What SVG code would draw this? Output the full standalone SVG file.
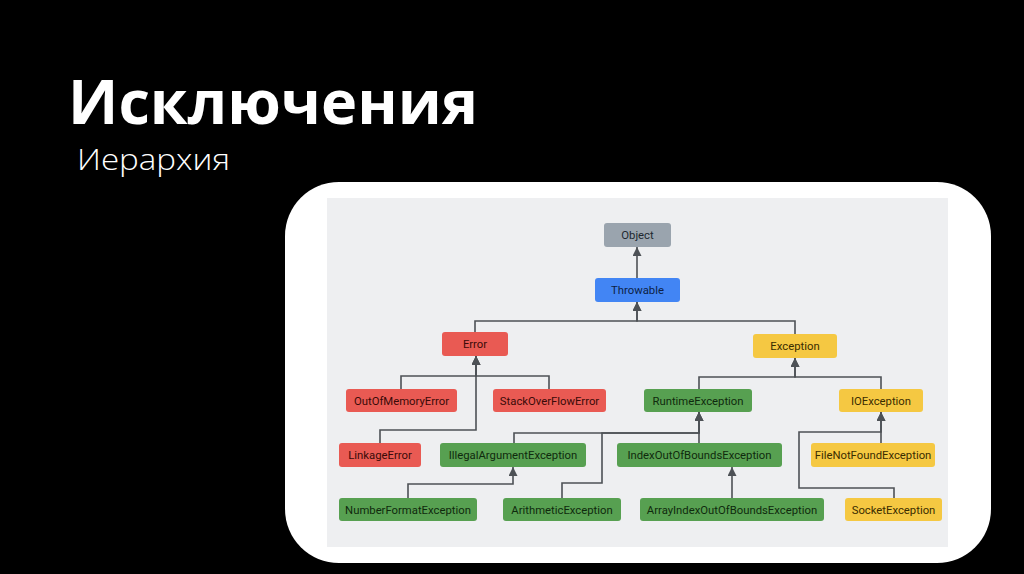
<svg xmlns="http://www.w3.org/2000/svg" width="1024" height="574" viewBox="0 0 1024 574">
<style>
.t{font-family:"Open Sans","Liberation Sans",sans-serif;fill:#fff}
.n{font-family:Roboto,"Liberation Sans",sans-serif;font-size:11.3px;text-anchor:middle}
.c{fill:none;stroke:#4d5156;stroke-width:1.6;marker-end:url(#ah)}
.gr rect{fill:#9aa4ae}.gr text{fill:#202830}
.bl rect{fill:#4285f4}.bl text{fill:#0d1f45}
.rd rect{fill:#e95a53}.rd text{fill:#3a0a08}
.ye rect{fill:#f5c842}.ye text{fill:#3a2c00}
.gn rect{fill:#57a051}.gn text{fill:#0f2a0d}
</style>
<defs>
<marker id="ah" viewBox="0 0 10 10" refX="10" refY="5" markerWidth="9" markerHeight="9" markerUnits="userSpaceOnUse" orient="auto">
<path d="M0,0 L10,5 L0,10 z" fill="#4d5156"/>
</marker>
</defs>
<rect width="1024" height="574" fill="#000"/>
<text class="t" x="68" y="124" font-size="60" font-weight="700" textLength="410" lengthAdjust="spacingAndGlyphs">Исключения</text>
<text class="t" x="77" y="170" font-size="30" font-weight="300" textLength="153" lengthAdjust="spacingAndGlyphs">Иерархия</text>
<rect x="285" y="182" width="706" height="381" rx="54" fill="#fff"/>
<rect x="327" y="198" width="621" height="349" fill="#eeeff1"/>
<g id="connectors">
<path class="c" d="M637,278 V247"/>
<path class="c" d="M475,332 V321 H637 V302"/>
<path class="c" d="M795,334 V321 H637 V302"/>
<path class="c" d="M401,389 V376 H476 V356"/>
<path class="c" d="M549,389 V376 H476 V356"/>
<path class="c" d="M380,443 V430 H476 V356"/>
<path class="c" d="M699,389 V377 H795 V358"/>
<path class="c" d="M881,389 V377 H795 V358"/>
<path class="c" d="M514,443 V433 H699 V412"/>
<path class="c" d="M699,443 V412"/>
<path class="c" d="M562,498 V483 H602 V433 H699 V412"/>
<path class="c" d="M408,498 V484 H513 V467"/>
<path class="c" d="M732,498 V467"/>
<path class="c" d="M881,443 V412"/>
<path class="c" d="M894,498 V488 H799 V432 H881 V412"/>
</g>
<g id="object" class="gr"><rect x="604" y="223" width="67" height="24" rx="3"/><text class="n" x="637.5" y="239">Object</text></g>
<g id="throwable" class="bl"><rect x="595" y="278" width="85" height="24" rx="3"/><text class="n" x="637.5" y="294">Throwable</text></g>
<g id="error" class="rd"><rect x="442" y="332" width="66" height="24" rx="3"/><text class="n" x="475" y="348">Error</text></g>
<g id="exception" class="ye"><rect x="753" y="334" width="84" height="24" rx="3"/><text class="n" x="795" y="350">Exception</text></g>
<g id="outofmemoryerror" class="rd"><rect x="346" y="389" width="111" height="23" rx="3"/><text class="n" x="401.5" y="404.5">OutOfMemoryError</text></g>
<g id="stackoverflowerror" class="rd"><rect x="493" y="389" width="113" height="23" rx="3"/><text class="n" x="549.5" y="404.5">StackOverFlowError</text></g>
<g id="runtimeexception" class="gn"><rect x="644" y="389" width="108" height="23" rx="3"/><text class="n" x="698" y="404.5">RuntimeException</text></g>
<g id="ioexception" class="ye"><rect x="839" y="389" width="84" height="23" rx="3"/><text class="n" x="881" y="404.5">IOException</text></g>
<g id="linkageerror" class="rd"><rect x="339" y="443" width="82" height="24" rx="3"/><text class="n" x="380" y="459">LinkageError</text></g>
<g id="illegalargumentexception" class="gn"><rect x="440" y="443" width="146" height="24" rx="3"/><text class="n" x="513" y="459">IllegalArgumentException</text></g>
<g id="indexoutofboundsexception" class="gn"><rect x="617" y="443" width="165" height="24" rx="3"/><text class="n" x="699.5" y="459">IndexOutOfBoundsException</text></g>
<g id="filenotfoundexception" class="ye"><rect x="811" y="443" width="124" height="24" rx="3"/><text class="n" x="873" y="459">FileNotFoundException</text></g>
<g id="numberformatexception" class="gn"><rect x="339" y="498" width="138" height="23" rx="3"/><text class="n" x="408" y="513.5">NumberFormatException</text></g>
<g id="arithmeticexception" class="gn"><rect x="503" y="498" width="118" height="23" rx="3"/><text class="n" x="562" y="513.5">ArithmeticException</text></g>
<g id="arrayindexoutofboundsexception" class="gn"><rect x="640" y="498" width="184" height="23" rx="3"/><text class="n" x="732" y="513.5">ArrayIndexOutOfBoundsException</text></g>
<g id="socketexception" class="ye"><rect x="845" y="498" width="97" height="23" rx="3"/><text class="n" x="893.5" y="513.5">SocketException</text></g>
</svg>
